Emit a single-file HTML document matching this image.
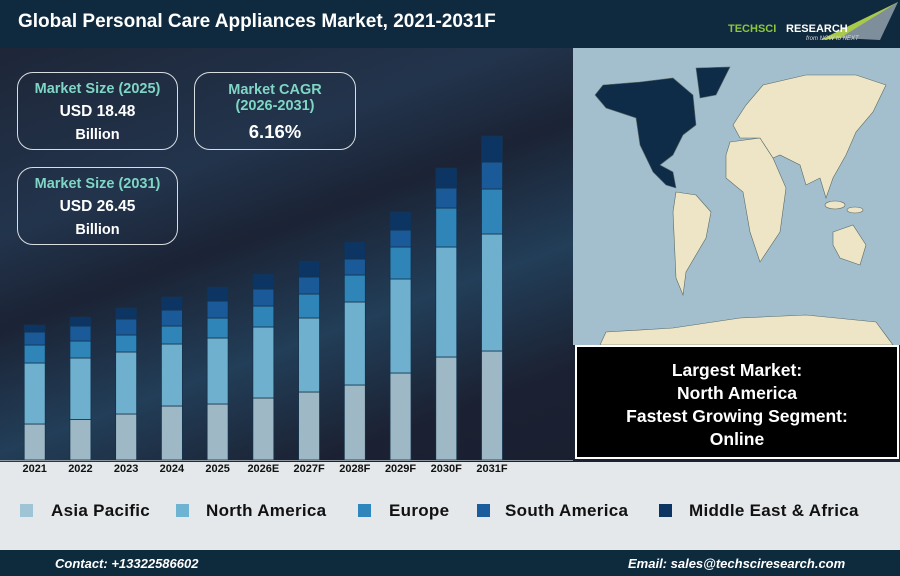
<!DOCTYPE html>
<html><head><meta charset="utf-8"><style>
*{margin:0;padding:0;box-sizing:border-box}
body{width:900px;height:576px;overflow:hidden;font-family:"Liberation Sans",Arial,sans-serif;background:#1b2232;position:relative}
.abs{position:absolute}
#title{left:0;top:0;width:900px;height:48px;background:#0f2a3e;}
#title h1{position:absolute;left:18px;top:11px;color:#fff;font-size:19px;font-weight:bold;letter-spacing:0}
#bg{left:0;top:48px;width:573px;height:414px;background:linear-gradient(160deg,#1e2638 0%,#22344c 30%,#1b2335 45%,#223e58 65%,#1b2132 85%,#1a2030 100%);overflow:hidden}
.box{position:absolute;border:1.5px solid #d8dde2;border-radius:16px;text-align:center;color:#fff;font-weight:bold}
.box .h{color:#7fd6c4;font-size:14.5px}
.box .v{font-size:15.5px}
#legend{left:0;top:462px;width:900px;height:88px;background:#e4e8ea}
.lg{position:absolute;top:504px;width:13px;height:13px}
.lt{position:absolute;top:501px;font-size:17px;font-weight:bold;color:#111;letter-spacing:0.3px}
#foot{left:0;top:550px;width:900px;height:26px;background:#0e2a3d;color:#fff;font-style:italic;font-weight:bold;font-size:13px}
#black{left:575px;top:345px;width:324px;height:114px;background:#000;border:2px solid #fff;color:#fff;text-align:center;font-weight:bold;font-size:17.5px;line-height:23px;padding-top:12px}
#chart{z-index:5}
</style></head><body>
<div id="title" class="abs"><h1>Global Personal Care Appliances Market, 2021-2031F</h1>
<svg class="abs" style="left:720px;top:0" width="180" height="48">
<polygon points="100,40 178,2 155,35" fill="#a9c94a"/><polygon points="120,38 178,2 160,40" fill="#7e8e9a"/>
<text x="8" y="32" font-family="Liberation Sans" font-weight="bold" font-size="11" fill="#8dc63f">TECHSCI</text>
<text x="66" y="32" font-family="Liberation Sans" font-weight="bold" font-size="11" fill="#fff">RESEARCH</text>
<text x="86" y="40" font-family="Liberation Sans" font-style="italic" font-size="6" fill="#ddd">from NOW to NEXT</text>
</svg></div>
<div id="bg" class="abs"></div>
<div class="box" style="left:17px;top:72px;width:161px;height:78px;padding-top:8px"><div class="h">Market Size (2025)</div><div class="v" style="margin-top:6px">USD 18.48</div><div class="v" style="font-size:14.5px;margin-top:6px">Billion</div></div>
<div class="box" style="left:194px;top:72px;width:162px;height:78px;padding-top:9px"><div class="h" style="line-height:16px">Market CAGR<br>(2026-2031)</div><div style="font-size:18.5px;margin-top:7px">6.16%</div></div>
<div class="box" style="left:17px;top:167px;width:161px;height:78px;padding-top:8px"><div class="h">Market Size (2031)</div><div class="v" style="margin-top:6px">USD 26.45</div><div class="v" style="font-size:14.5px;margin-top:6px">Billion</div></div>
<div id="legend" class="abs"></div>
<svg id="chart" class="abs" style="left:0;top:0" width="573" height="480" font-family="Liberation Sans" font-weight="bold" font-size="11">
<g stroke="#14324d" stroke-width="0.8" id="bars"></g>
<line x1="0" y1="460.5" x2="573" y2="460.5" stroke="#8a96a0"/>
<g id="labels" text-anchor="middle" fill="#111"></g>
</svg>
<svg class="abs" style="left:573px;top:48px" width="327" height="297">
<rect width="327" height="297" fill="#a3bfcd"/>
<g transform="translate(-573,-48)" stroke="#5a6a66" stroke-width="0.6">
<polygon fill="#0e2c48" points="603,85 640,82 673,78 693,95 696,125 683,135 673,155 660,165 673,172 676,188 666,185 653,172 640,145 636,118 606,108 595,95"/>
<polygon fill="#0e2c48" points="696,68 730,67 716,95 700,98"/>
<polygon fill="#ede5c6" points="676,192 696,195 711,212 706,238 686,272 683,295 676,278 673,212"/>
<polygon fill="#ede5c6" points="730,142 760,138 773,158 786,188 780,232 760,262 750,232 743,192 726,178 726,155"/>
<polygon fill="#ede5c6" points="733,125 746,105 763,85 806,75 856,75 886,85 873,112 856,132 846,155 833,178 826,198 820,178 806,185 800,165 780,155 773,158 760,138 740,138"/>
<polygon fill="#ede5c6" points="833,232 853,225 866,245 860,265 840,258 833,245"/>
<polygon fill="#ede5c6" points="606,332 673,328 740,318 806,315 876,322 893,345 600,345"/>
<ellipse cx="835" cy="205" rx="10" ry="4" fill="#ede5c6"/><ellipse cx="855" cy="210" rx="8" ry="3" fill="#ede5c6"/>
</g></svg>
<div id="black" class="abs">Largest Market:<br>North America<br>Fastest Growing Segment:<br>Online</div>
<div class="lg" style="left:20px;background:#9fc4d6"></div><div class="lt" style="left:51px">Asia Pacific</div>
<div class="lg" style="left:176px;background:#6fb3d3"></div><div class="lt" style="left:206px">North America</div>
<div class="lg" style="left:358px;background:#2f86bd"></div><div class="lt" style="left:389px">Europe</div>
<div class="lg" style="left:477px;background:#1a5c9c"></div><div class="lt" style="left:505px">South America</div>
<div class="lg" style="left:659px;background:#0d3563"></div><div class="lt" style="left:689px">Middle East &amp; Africa</div>
<div id="foot" class="abs"><span class="abs" style="left:55px;top:6px">Contact: +13322586602</span><span class="abs" style="left:628px;top:6px">Email: sales@techsciresearch.com</span></div>
<script>
var d=[["2021",424,363,345,332,325],["2022",419.5,358,341,326,317],["2023",414,352,335,319,308],["2024",406,344,326,310,297],["2025",404,338,318,301,287],["2026E",398,327,306,289,274],["2027F",392,318,294,277,261],["2028F",385,302,275,259,242],["2029F",373,279,247,230,212],["2030F",357,247,208,188,168],["2031F",351,234,189,162,136]];
var c=["#9fb8c5","#6fb0cf","#2f84b8","#1a5a99","#0d3563"];
var g=document.getElementById("bars"),L=document.getElementById("labels"),s="",t="";
d.forEach(function(r,i){var cx=34.7+i*45.73,x=cx-10.5,prev=460;
for(var k=0;k<5;k++){var y=r[k+1];s+='<rect x="'+x+'" y="'+y+'" width="21" height="'+(prev-y)+'" fill="'+c[k]+'"/>';prev=y;}
t+='<text x="'+cx+'" y="472">'+r[0]+'</text>';});
g.innerHTML=s;L.innerHTML=t;
</script>
</body></html>
